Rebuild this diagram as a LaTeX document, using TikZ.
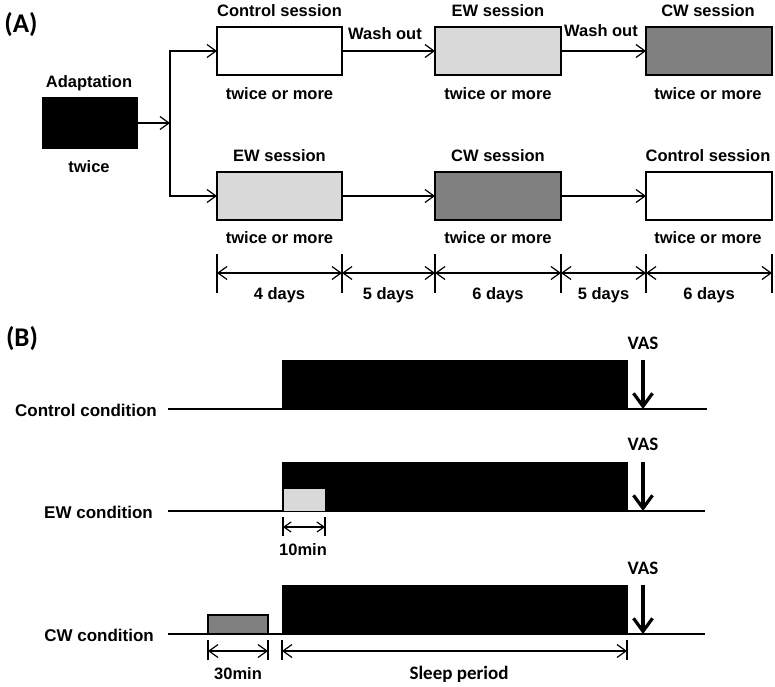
\documentclass[tikz,border=0pt]{standalone}
\usepackage{fontspec}
\setmainfont{Liberation Sans}
\newfontfamily\calib{Carlito}
\usetikzlibrary{arrows.meta}
\definecolor{lg}{HTML}{D9D9D9}
\definecolor{dg}{HTML}{808080}
\begin{document}
\begin{tikzpicture}[x=1pt,y=-1pt,
  lab/.style={font=\bfseries\fontsize{16.5}{19}\selectfont, inner sep=0pt, anchor=base},
  clab/.style={font=\bfseries\fontsize{17}{20}\selectfont, inner sep=0pt, anchor=base east},
  biglab/.style={font=\calib\bfseries\fontsize{27}{30}\selectfont, inner sep=0pt, anchor=base},
  vlab/.style={font=\calib\bfseries\fontsize{19}{22}\selectfont, inner sep=0pt, anchor=base},
  box/.style={draw=black, line width=1.2pt, inner sep=0pt, outer sep=0pt, minimum height=48pt},
  conn/.style={line width=1.2pt, -{Straight Barb[length=9pt,width=13pt]}},
  dim/.style={line width=1.2pt, {Straight Barb[length=9pt,width=13pt]}-{Straight Barb[length=9pt,width=13pt]}},
  sdim/.style={line width=1.2pt, {Straight Barb[length=7pt,width=10pt]}-{Straight Barb[length=7pt,width=10pt]}},
  tickline/.style={line width=1.2pt},
  baseline/.style={line width=1.2pt},
  vas/.style={line width=3.2pt, -{Straight Barb[length=13pt,width=19pt]}},
  bar/.style={fill=black, inner sep=0pt, outer sep=0pt, minimum height=49pt, minimum width=346pt},
]
\useasboundingbox (0,0) rectangle (775,686);

% ---------------- (A) ----------------
\node[biglab] (labA) at (21,32) {(A)};

\node[box, fill=black, minimum width=94pt, minimum height=50pt] (adapt) at (90,123) {};
\node[lab] (adaptT) at (89,87) {Adaptation};
\node[lab] (adaptB) at (89,172) {twice};

\node[box, fill=white, minimum width=125pt] (c1) at (279.5,51) {};
\node[box, fill=lg,    minimum width=126pt] (e1) at (498,51) {};
\node[box, fill=dg,    minimum width=126pt] (w1) at (709,51) {};
\node[box, fill=lg,    minimum width=125pt] (e2) at (279.5,196) {};
\node[box, fill=dg,    minimum width=126pt] (w2) at (498,196) {};
\node[box, fill=white, minimum width=126pt] (c2) at (709,196) {};

\node[lab] (c1T) at (279.5,16) {Control session};
\node[lab] (e1T) at (498,16) {EW session};
\node[lab] (w1T) at (708,16) {CW session};
\node[lab] (c1B) at (279.5,99) {twice or more};
\node[lab] (e1B) at (498,99) {twice or more};
\node[lab] (w1B) at (708,99) {twice or more};

\node[lab] (e2T) at (279.5,161) {EW session};
\node[lab] (w2T) at (498,161) {CW session};
\node[lab] (c2T) at (708,161) {Control session};
\node[lab] (e2B) at (279.5,243) {twice or more};
\node[lab] (w2B) at (498,243) {twice or more};
\node[lab] (c2B) at (708,243) {twice or more};

\node[lab] (wash1) at (385,39) {Wash out};
\node[lab] (wash2) at (601,36) {Wash out};

\coordinate (split) at (170,123);
\draw[conn] (adapt.east) -- (split);
\draw[conn] (split) |- (c1.west);
\draw[conn] (split) |- (e2.west);
\draw[conn] (c1.east) -- (e1.west);
\draw[conn] (e1.east) -- (w1.west);
\draw[conn] (e2.east) -- (w2.west);
\draw[conn] (w2.east) -- (c2.west);

% day scale
\foreach \i/\x in {1/217,2/342,3/435,4/561,5/646,6/772}{
  \coordinate (d\i) at (\x,273);
  \draw[tickline] (\x,254) -- (\x,293);
}
\draw[dim] (d1) -- (d2);
\draw[dim] (d2) -- (d3);
\draw[dim] (d3) -- (d4);
\draw[dim] (d4) -- (d5);
\draw[dim] (d5) -- (d6);
\node[lab] (day1) at (279.5,299) {4 days};
\node[lab] (day2) at (388.5,299) {5 days};
\node[lab] (day3) at (498,299) {6 days};
\node[lab] (day4) at (603.5,299) {5 days};
\node[lab] (day5) at (709,299) {6 days};

% ---------------- (B) ----------------
\node[biglab] (labB) at (22,346) {(B)};

% Control condition
\node[clab] (ccond) at (157,416) {Control condition};
\draw[baseline] (168,409) coordinate (l1s) -- (707,409) coordinate (l1e);
\node[bar] (s1) at (455,384.5) {};
\coordinate (v1t) at (643,360);
\coordinate (v1b) at (643,409);
\draw[vas] (v1t) -- (v1b);
\node[vlab] (vas1) at (643,349) {VAS};

% EW condition
\node[clab] (econd) at (153,518) {EW condition};
\draw[baseline] (168,511) coordinate (l2s) -- (705,511) coordinate (l2e);
\node[bar] (s2) at (455,486.5) {};
\node[draw=black, line width=0.8pt, fill=lg, inner sep=0pt, outer sep=0pt, minimum width=42pt, minimum height=23pt] (ewb) at (304,499.5) {};
\coordinate (v2t) at (643,462);
\coordinate (v2b) at (643,511);
\draw[vas] (v2t) -- (v2b);
\node[vlab] (vas2) at (643,450) {VAS};
\draw[tickline] (283,517) -- (283,536);
\draw[tickline] (325,517) -- (325,536);
\coordinate (m1a) at (283,527);
\coordinate (m1b) at (325,527);
\draw[sdim] (m1a) -- (m1b);
\node[lab] (ten) at (303,555) {10min};

% CW condition
\node[clab] (wcond) at (154,641) {CW condition};
\draw[baseline] (168,634) coordinate (l3s) -- (705,634) coordinate (l3e);
\node[bar] (s3) at (455,609.5) {};
\node[draw=black, line width=1.2pt, fill=dg, inner sep=0pt, outer sep=0pt, minimum width=60pt, minimum height=19pt] (cwb) at (238,624.5) {};
\coordinate (v3t) at (643,585);
\coordinate (v3b) at (643,634);
\draw[vas] (v3t) -- (v3b);
\node[vlab] (vas3) at (643,574) {VAS};
\foreach \x in {208,268,282,627}{
  \draw[tickline] (\x,640) -- (\x,660);
}
\coordinate (m2a) at (208,651);
\coordinate (m2b) at (268,651);
\coordinate (m3a) at (282,651);
\coordinate (m3b) at (627,651);
\draw[dim] (m2a) -- (m2b);
\draw[dim] (m3a) -- (m3b);
\node[lab] (thirty) at (238,679) {30min};
\node[vlab] (sleep) at (459,679) {Sleep period};

\end{tikzpicture}
\end{document}
